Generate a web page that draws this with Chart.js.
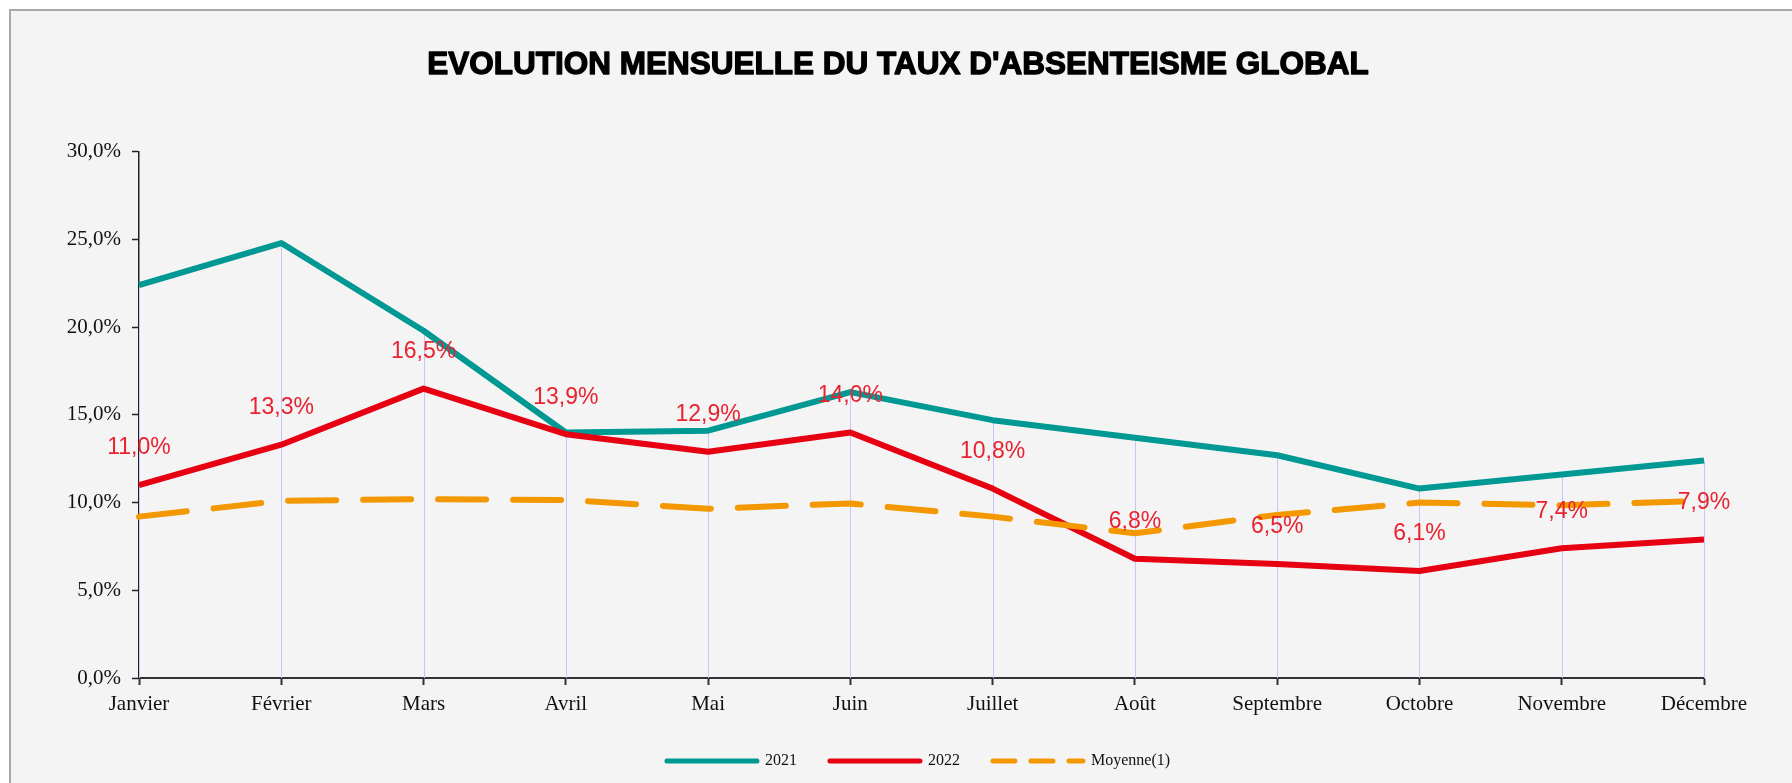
<!DOCTYPE html>
<html><head><meta charset="utf-8">
<script src="https://cdn.jsdelivr.net/npm/chart.js@4.4.1/dist/chart.umd.min.js"></script>
<style>html,body{margin:0;padding:0;background:#fff;}#wrap{width:1792px;height:783px;}</style>
</head><body><div id="wrap"><canvas id="c" width="1792" height="783"></canvas></div>
<script>
const months = ['Janvier','Février','Mars','Avril','Mai','Juin','Juillet','Août','Septembre','Octobre','Novembre','Décembre'];
const taux2021 = [22.4,24.8,19.8,14.0,14.1,16.3,14.7,13.7,12.7,10.8,11.6,12.4];
const taux2022 = [11.0,13.3,16.5,13.9,12.9,14.0,10.8,6.8,6.5,6.1,7.4,7.9];
const moyenne = [9.2,10.1,10.2,10.15,9.65,9.95,9.2,8.25,9.3,10.0,9.85,10.1];
const seriesNames = ['2021','2022','Moyenne(1)'];
const yMin = 0, yMax = 30, yStep = 5;
const titleText = "EVOLUTION MENSUELLE DU TAUX D'ABSENTEISME GLOBAL";

const fmt = v => v.toFixed(1).replace('.', ',') + '%';
const TITLE_FONT = { family: '"Liberation Sans", Arial, sans-serif', size: 31.5, weight: 'bold', lineHeight: 1.2 };

const bgPlugin = {
  id: 'bg',
  beforeDraw(chart) {
    const ctx = chart.ctx;
    ctx.save();
    ctx.fillStyle = '#ffffff';
    ctx.fillRect(0, 0, chart.width, chart.height);
    ctx.fillStyle = '#f4f4f4';
    ctx.fillRect(10, 10, chart.width - 10, chart.height - 10);
    ctx.strokeStyle = '#a8a8a8';
    ctx.lineWidth = 2;
    ctx.beginPath();
    ctx.moveTo(10, chart.height);
    ctx.lineTo(10, 10);
    ctx.lineTo(chart.width, 10);
    ctx.stroke();
    ctx.restore();
  }
};

const boxShiftPlugin = {
  id: 'boxShift',
  afterLayout(chart) {
    if (chart.legend) { chart.legend.left = 133; }
    if (chart.titleBlock) { chart.titleBlock.left = 4; chart.titleBlock.right = 1792; }
  },
  afterDraw(chart) {
    const tb = chart.titleBlock;
    if (!tb) return;
    const ctx = chart.ctx;
    const lh = TITLE_FONT.size * TITLE_FONT.lineHeight;
    ctx.save();
    ctx.font = 'bold ' + TITLE_FONT.size + 'px ' + TITLE_FONT.family;
    ctx.textAlign = 'center';
    ctx.textBaseline = 'middle';
    ctx.strokeStyle = '#000';
    ctx.lineWidth = 1.3;
    ctx.lineJoin = 'round';
    ctx.strokeText(titleText, (tb.left + tb.right) / 2, tb.top + tb.options.padding.top + lh / 2);
    ctx.restore();
  }
};

const dropPlugin = {
  id: 'drop',
  beforeDatasetsDraw(chart) {
    const xs = chart.scales.x, ys = chart.scales.y, ctx = chart.ctx;
    ctx.save();
    ctx.strokeStyle = '#c6c6f8';
    ctx.lineWidth = 1;
    months.forEach((m, i) => {
      const top = Math.max(taux2021[i], taux2022[i], moyenne[i]);
      const px = Math.round(xs.getPixelForValue(i)) + 0.5;
      ctx.beginPath();
      ctx.moveTo(px, ys.getPixelForValue(top));
      ctx.lineTo(px, ys.getPixelForValue(0));
      ctx.stroke();
    });
    ctx.restore();
  }
};

const labelPlugin = {
  id: 'redLabels',
  afterDatasetsDraw(chart) {
    const meta = chart.getDatasetMeta(1);
    const ctx = chart.ctx;
    ctx.save();
    ctx.font = '23px "Liberation Sans", Arial, sans-serif';
    ctx.fillStyle = '#e8232f';
    ctx.textAlign = 'center';
    ctx.textBaseline = 'middle';
    meta.data.forEach((pt, i) => {
      ctx.fillText(fmt(taux2022[i]), pt.x, pt.y - 37);
    });
    ctx.restore();
  }
};

new Chart(document.getElementById('c'), {
  type: 'line',
  data: {
    labels: months,
    datasets: [
      { label: seriesNames[0], data: taux2021, borderColor: '#009893', backgroundColor: '#009893',
        borderWidth: 6, pointRadius: 0, tension: 0, borderJoinStyle: 'round', order: 2 },
      { label: seriesNames[1], data: taux2022, borderColor: '#e60012', backgroundColor: '#e60012',
        borderWidth: 6, pointRadius: 0, tension: 0, borderJoinStyle: 'round', order: 1 },
      { label: seriesNames[2], data: moyenne, borderColor: '#f39800', backgroundColor: '#f39800',
        borderWidth: 6, pointRadius: 0, tension: 0, borderDash: [48, 27], borderCapStyle: 'round',
        borderJoinStyle: 'round', order: 0 }
    ]
  },
  options: {
    responsive: false,
    devicePixelRatio: 1,
    animation: false,
    layout: { padding: { left: 10, right: 88, top: 0, bottom: 4 } },
    plugins: {
      title: {
        display: true, text: titleText, color: '#000',
        font: TITLE_FONT,
        padding: { top: 46, bottom: 68 }
      },
      legend: {
        display: true, position: 'bottom',
        labels: {
          color: '#111',
          font: { family: '"Liberation Serif", "Times New Roman", serif', size: 16 },
          usePointStyle: true, pointStyle: 'line', pointStyleWidth: 90,
          padding: 33,
          sort: (a, b) => a.datasetIndex - b.datasetIndex,
          generateLabels(chart) {
            const items = Chart.defaults.plugins.legend.labels.generateLabels(chart);
            items.forEach(it => {
              it.lineWidth = 5;
              it.lineCap = 'round';
              it.pointStyle = 'line';
              it.lineDash = it.datasetIndex === 2 ? [22, 16] : [];
            });
            return items;
          }
        }
      },
      tooltip: { enabled: false }
    },
    scales: {
      x: {
        type: 'category', offset: false,
        grid: { display: true, drawOnChartArea: false, drawTicks: true, tickLength: 7, tickColor: '#333', tickWidth: 2 },
        border: { display: true, color: '#333', width: 2 },
        ticks: { color: '#111', font: { family: '"Liberation Serif", "Times New Roman", serif', size: 21 },
                 padding: 7, maxRotation: 0, autoSkip: false },
        afterFit(s) { s.height = 42; }
      },
      y: {
        min: yMin, max: yMax,
        grid: { display: true, drawOnChartArea: false, drawTicks: true, tickLength: 7, tickColor: '#222', tickWidth: 1.5 },
        border: { display: true, color: '#222', width: 1.5 },
        ticks: { stepSize: yStep, color: '#111', padding: 11,
                 font: { family: '"Liberation Serif", "Times New Roman", serif', size: 21 },
                 callback: v => fmt(v) },
        afterFit(s) { s.width = 129; }
      }
    }
  },
  plugins: [bgPlugin, boxShiftPlugin, dropPlugin, labelPlugin]
});
</script>
</body></html>
